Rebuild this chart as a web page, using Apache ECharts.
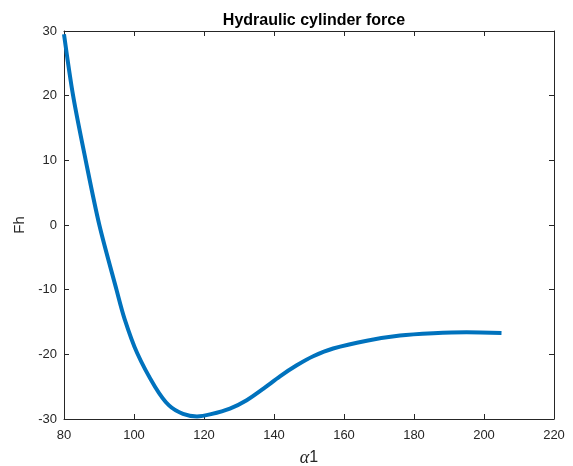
<!DOCTYPE html>
<html>
<head>
<meta charset="utf-8">
<script src="https://cdn.jsdelivr.net/npm/echarts@6/dist/echarts.min.js"></script>
<style>
html,body{margin:0;padding:0;background:#fff;}
#chart{width:573px;height:466px;}
</style>
</head>
<body>
<div id="chart"></div>
<script>
var titleText = 'Hydraulic cylinder force';
var xName = 'α1';
var yName = 'Fh';
var xTicks = [80, 100, 120, 140, 160, 180, 200, 220];
var yTicks = [-30, -20, -10, 0, 10, 20, 30];
var alpha = [80, 82.6, 86.2, 90.1, 95, 97.3, 100.9, 106, 110, 114, 118, 122, 127.4, 132.2, 137, 141.7, 146.5, 151.2, 156.9, 166.5, 176, 185.5, 195, 205];
var Fh = [29.5, 20, 10, 0, -10, -14.5, -19.8, -25, -27.9, -29.2, -29.6, -29.25, -28.4, -27.1, -25.3, -23.4, -21.7, -20.3, -19.1, -17.9, -17.1, -16.75, -16.6, -16.7];

var pts = alpha.map(function (a, i) { return [a, Fh[i]]; });
var font = 'Liberation Sans, Arial, sans-serif';
var axisCol = '#262626';

function axisBase(extra) {
  var o = {
    type: 'value',
    axisLine: { show: true, onZero: false, lineStyle: { color: axisCol, width: 1 } },
    axisTick: { show: true, inside: true, length: 5, lineStyle: { color: axisCol } },
    splitLine: { show: false },
    axisLabel: { color: axisCol, fontSize: 13, fontFamily: font }
  };
  for (var k in extra) o[k] = extra[k];
  return o;
}

var chart = echarts.init(document.getElementById('chart'));
chart.setOption({
  animation: false,
  backgroundColor: '#fff',
  title: {
    text: titleText,
    left: 309,
    textAlign: 'center',
    top: 8,
    textStyle: { fontSize: 16, fontWeight: 'bold', color: '#000', fontFamily: font }
  },
  grid: { left: 64, right: 19, top: 31, bottom: 47, containLabel: false, outerBoundsMode: 'none' },
  xAxis: [
    axisBase({
      min: xTicks[0], max: xTicks[xTicks.length - 1], interval: 20,
      name: '{a|α}{b|1}', nameLocation: 'middle', nameGap: 30,
      nameTextStyle: {
        color: axisCol,
        rich: {
          a: { fontSize: 18, fontFamily: 'Liberation Serif, serif', fontStyle: 'italic', color: axisCol },
          b: { fontSize: 16, fontFamily: font, color: axisCol }
        }
      },
      axisLabel: { color: axisCol, fontSize: 13, fontFamily: font, margin: 10 }
    }),
    axisBase({
      position: 'top', min: xTicks[0], max: xTicks[xTicks.length - 1], interval: 20,
      axisLabel: { show: false }
    })
  ],
  yAxis: [
    axisBase({
      min: yTicks[0], max: yTicks[yTicks.length - 1], interval: 10,
      name: yName, nameLocation: 'middle', nameGap: 33, nameRotate: 90,
      nameTextStyle: { fontSize: 15, color: axisCol, fontFamily: font },
      axisLabel: { color: axisCol, fontSize: 13, fontFamily: font, margin: 7 }
    }),
    axisBase({
      position: 'right', min: yTicks[0], max: yTicks[yTicks.length - 1], interval: 10,
      axisLabel: { show: false }
    })
  ],
  series: [{
    type: 'line',
    data: pts,
    smooth: 0.3,
    showSymbol: false,
    lineStyle: { color: '#0072BD', width: 4 },
    itemStyle: { color: '#0072BD' }
  }]
});
</script>
</body>
</html>
